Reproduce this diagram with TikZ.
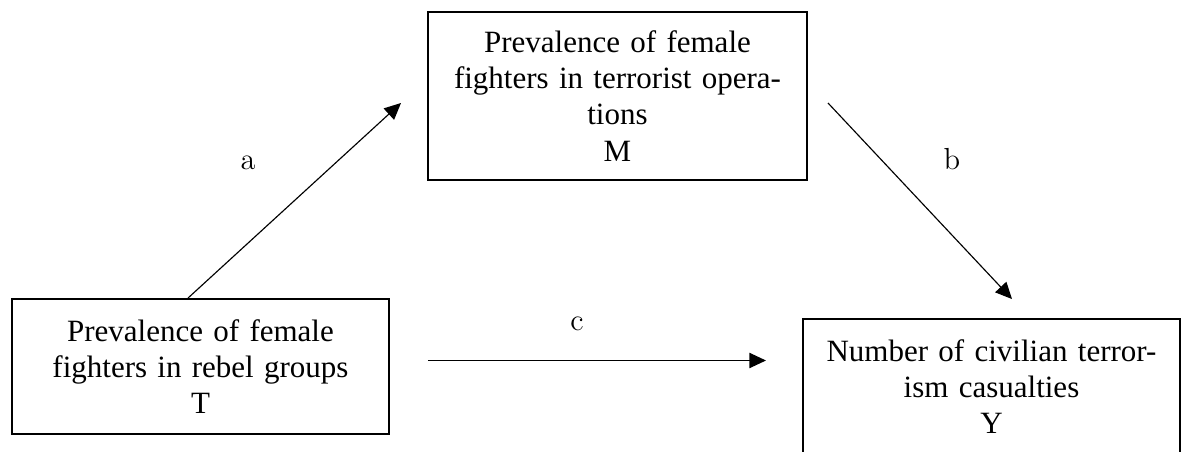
\documentclass[tikz,border=0pt]{standalone}
\usepackage{fontspec}
\newfontfamily\boxfont{Liberation Serif}
\usepackage{tikz}
\usetikzlibrary{arrows.meta,calc}
\tikzset{
  varbox/.style={rectangle, draw=black, line width=0.8pt, inner sep=0pt,
                 text width=146pt, align=center, minimum width=148.4pt,
                 minimum height=53.1pt, font=\boxfont\fontsize{12.2}{14.2}\selectfont},
  link/.style={-{Triangle[length=6.5pt,width=6pt]}, line width=0.45pt, draw=black},
  pathlabel/.style={anchor=base, inner sep=0pt, font=\fontsize{12}{14}\selectfont}
}
\begin{document}
\begin{tikzpicture}[x=0.3937pt, y=-0.3937pt]
\useasboundingbox (0,0) rectangle (1181,452);
\clip (0,0) rectangle (1181,452);
\node[varbox] (T) at (200.5,366.5) {Prevalence of female\\fighters in rebel groups\\T};
\node[varbox, minimum width=149.2pt, minimum height=66.1pt] (M) at (617.5,96) {Prevalence of female\\fighters in terrorist opera-\\tions\\M};
\node[varbox] (Y) at (991.5,386.5) {Number of civilian terror-\\ism casualties\\Y};
\draw[link] ([shift={(177,0)}]T.north west) -- ([shift={(-26,7)}]M.west);
\draw[link] ([shift={(20,7)}]M.east) -- ([shift={(20.5,-19)}]Y.north);
\draw[link, shorten >=14.2pt] ([shift={(38,-6)}]T.east) coordinate (c0) -- (c0 -| Y.west);
\node[pathlabel] (la) at (248,169) {a};
\node[pathlabel] (lb) at (952,169) {b};
\node[pathlabel] (lc) at (577,330) {c};
\end{tikzpicture}
\end{document}
